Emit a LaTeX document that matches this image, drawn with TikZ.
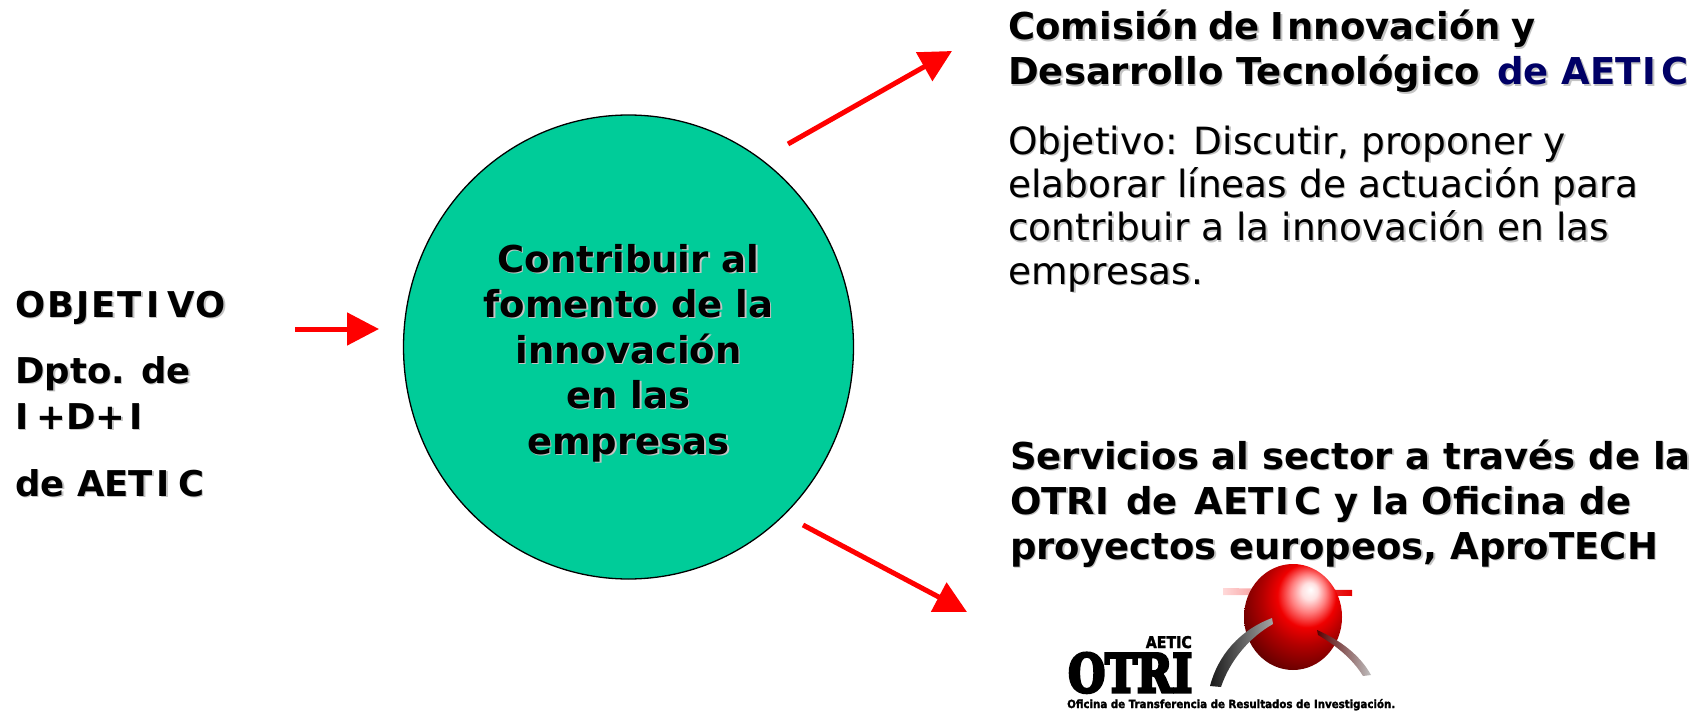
\documentclass[tikz,border=0pt]{standalone}
\usepackage{fontspec}
\setmainfont{DejaVu Sans}
\newfontfamily\logofont{DejaVu Serif}[BoldFeatures={FakeBold=6}]
\newfontfamily\smallfont{DejaVu Sans}[BoldFeatures={FakeBold=2}]
\usetikzlibrary{arrows.meta,shapes.geometric}
\definecolor{disccolor}{HTML}{00CC99}
\definecolor{navytext}{HTML}{000066}
\definecolor{shadowgray}{HTML}{C4C4C4}
\newcommand{\shadowed}[2][black]{\leavevmode\rlap{\raisebox{-1.4pt}{\hspace{1.4pt}\textcolor{shadowgray}{#2}}}\textcolor{#1}{#2}}
\newcommand{\spI}{\kern2pt I\kern5pt}
\newcommand{\wideI}{\kern4pt I\kern8pt}
\pgfdeclareradialshading{logoball}{\pgfpoint{9bp}{13bp}}{
  color(0bp)=(white);
  color(4bp)=(red!12!white);
  color(9bp)=(red!50!white);
  color(15bp)=(red!94!black);
  color(22bp)=(red!70!black);
  color(31bp)=(red!45!black);
  color(39bp)=(red!22!black);
  color(47bp)=(black);
  color(67bp)=(black)}
\tikzset{
  redarrow/.style={draw=red,line width=5pt,-{Triangle[length=32pt,width=32pt]}},
  headtext/.style={anchor=base west,align=left,inner sep=0pt,font=\fontsize{37}{45}\selectfont\bfseries},
  bodytext/.style={anchor=base west,align=left,inner sep=0pt,font=\fontsize{37.5}{43.3}\selectfont},
  lefttext/.style={anchor=base west,inner sep=0pt,font=\fontsize{35.5}{46}\selectfont\bfseries},
  disc/.style={ellipse,draw=black,line width=1.3pt,fill=disccolor,minimum width=450pt,minimum height=464pt,inner sep=0pt},
  disctext/.style={anchor=base,align=center,inner sep=0pt,font=\fontsize{37}{45.5}\selectfont\bfseries}
}
\begin{document}
\begin{tikzpicture}[x=1pt,y=-1pt]
\useasboundingbox (0,0) rectangle (1702,711);
\node[disc] (circle) at (628.5,347) {};
\node[disctext] (goal) at (628.5,454) {\shadowed{Contribuir al}\\\shadowed{fomento de la}\\\shadowed{innovación}\\\shadowed{en las}\\\shadowed{empresas}};
\node[lefttext] (obj) at (15,317) {\shadowed{O\kern2pt B\kern2pt J\kern2pt E\kern2pt T\wideI V\kern1pt O}};
\node[lefttext,align=left] (dpto) at (15,429) {\shadowed{Dpto. de}\\\shadowed{I\kern8pt +D+\wideI}};
\node[lefttext] (aetic) at (15,496) {\shadowed{de AET\wideI C}};
\node[headtext] (comision) at (1008,85) {\shadowed{Comisión\kern-3pt{} de\kern-3pt{} \kern1pt I\kern3pt nnovación\kern-3pt{} y}\\\shadowed{Desarrollo Tecnológico}\kern4pt{} \shadowed[navytext]{de AET\spI C}};
\node[bodytext] (objetivo) at (1008,284) {\shadowed{Objetivo: Discutir, proponer y}\\\shadowed{elaborar líneas de actuación para}\\\shadowed{contribuir a la innovación en las}\\\shadowed{empresas.}};
\node[headtext] (servicios) at (1010,559) {\shadowed{Servicios al sector a través de la}\\\shadowed{OTRI\kern4pt{} de\kern4pt{} AET\spI C y la Oficina de}\\\shadowed{proyectos europeos, AproTECH}};
\coordinate (a1s) at (295,329); \coordinate (a1e) at (379,329);
\coordinate (a2s) at (788,144); \coordinate (a2e) at (952,51);
\coordinate (a3s) at (803,525); \coordinate (a3e) at (967,612);
\draw[redarrow] (a1s) -- (a1e);
\draw[redarrow] (a2s) -- (a2e);
\draw[redarrow] (a3s) -- (a3e);
% logo
\path[left color=red!15,right color=red!90!black] (1223,588) -- (1352,590) -- (1352,596) -- (1223,595) -- cycle;
\shade[shading=logoball] (1293,617) ellipse [x radius=49,y radius=53];
\path[left color=black!90,right color=black!35] (1272,618) .. controls (1240,630) and (1218,655) .. (1210,686) -- (1221,687) .. controls (1230,660) and (1250,637) .. (1273,624) -- cycle;
\path[left color=black!65!red,right color=black!25] (1317,630) .. controls (1340,640) and (1360,655) .. (1371,675) -- (1363,676) .. controls (1352,658) and (1335,645) .. (1318,635) -- cycle;
\node[anchor=base east,inner sep=0pt] (logoa) at (1192,648) {\resizebox{46pt}{12pt}{\smallfont\bfseries AETIC}};
\node[anchor=base west,inner sep=0pt] (logob) at (1068,692) {\resizebox{124pt}{39pt}{\logofont\bfseries OTRI}};
\node[anchor=base west,inner sep=0pt] (logoc) at (1067,708) {\resizebox{328pt}{9pt}{\smallfont\bfseries Oficina de Transferencia de Resultados de Investigación.}};
\end{tikzpicture}
\end{document}
